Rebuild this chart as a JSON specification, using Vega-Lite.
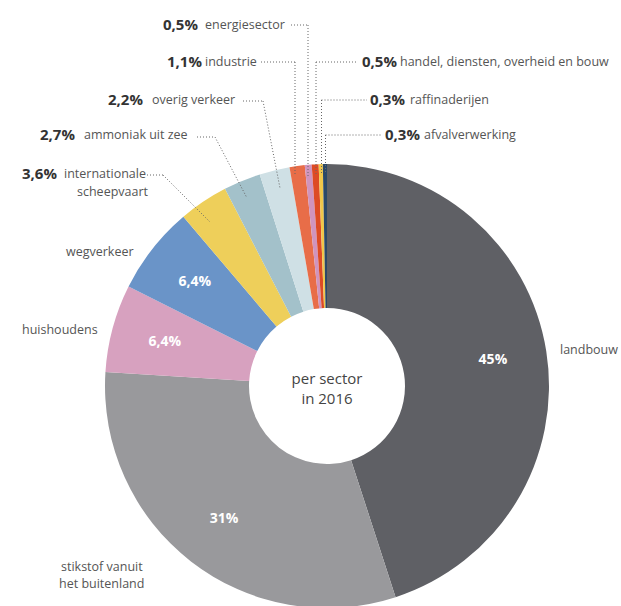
{
  "$schema": "https://vega.github.io/schema/vega-lite/v6.json",
  "autosize": {"type": "none"},
  "width": 444,
  "height": 444,
  "padding": {"left": 105, "top": 164, "right": 72, "bottom": 0},
  "background": "white",
  "config": {"view": {"stroke": null}},
  "datasets": {
    "slices": [
      {"name": "landbouw", "value": 45, "idx": 1, "inner": "45%"},
      {"name": "stikstof vanuit het buitenland", "value": 31, "idx": 2, "inner": "31%"},
      {"name": "huishoudens", "value": 6.4, "idx": 3, "inner": "6,4%"},
      {"name": "wegverkeer", "value": 6.4, "idx": 4, "inner": "6,4%"},
      {"name": "internationale scheepvaart", "value": 3.6, "idx": 5, "inner": ""},
      {"name": "ammoniak uit zee", "value": 2.7, "idx": 6, "inner": ""},
      {"name": "overig verkeer", "value": 2.2, "idx": 7, "inner": ""},
      {"name": "industrie", "value": 1.1, "idx": 8, "inner": ""},
      {"name": "energiesector", "value": 0.5, "idx": 9, "inner": ""},
      {"name": "handel, diensten, overheid en bouw", "value": 0.5, "idx": 10, "inner": ""},
      {"name": "raffinaderijen", "value": 0.3, "idx": 11, "inner": ""},
      {"name": "afvalverwerking", "value": 0.3, "idx": 12, "inner": ""}
    ],
    "labels": [
      {"t": "0,5%", "x": -164, "y": -361, "kind": "pct"},
      {"t": "1,1%", "x": -160, "y": -324, "kind": "pct"},
      {"t": "2,2%", "x": -219, "y": -286, "kind": "pct"},
      {"t": "2,7%", "x": -287, "y": -251, "kind": "pct"},
      {"t": "3,6%", "x": -305, "y": -212, "kind": "pct"},
      {"t": "0,5%", "x": 35, "y": -324, "kind": "pct"},
      {"t": "0,3%", "x": 43, "y": -286, "kind": "pct"},
      {"t": "0,3%", "x": 58, "y": -251, "kind": "pct"},
      {"t": "energiesector", "x": -122, "y": -361, "kind": "name"},
      {"t": "industrie", "x": -122, "y": -324, "kind": "name"},
      {"t": "overig verkeer", "x": -175, "y": -286, "kind": "name"},
      {"t": "ammoniak uit zee", "x": -243, "y": -251, "kind": "name"},
      {"t": "internationale", "x": -263, "y": -212, "kind": "name"},
      {"t": "scheepvaart", "x": -250, "y": -194, "kind": "name"},
      {"t": "handel, diensten, overheid en bouw", "x": 73, "y": -324, "kind": "name"},
      {"t": "raffinaderijen", "x": 83, "y": -286, "kind": "name"},
      {"t": "afvalverwerking", "x": 97, "y": -251, "kind": "name"},
      {"t": "wegverkeer", "x": -261, "y": -134, "kind": "name"},
      {"t": "huishoudens", "x": -305, "y": -56, "kind": "name"},
      {"t": "stikstof vanuit", "x": -266, "y": 181, "kind": "name"},
      {"t": "het buitenland", "x": -268, "y": 198, "kind": "name"},
      {"t": "landbouw", "x": 233, "y": -36, "kind": "name"}
    ],
    "center": [
      {"t": "per sector", "x": 0, "y": -7},
      {"t": "in 2016", "x": 0, "y": 13}
    ],
    "leaders": [
      {"x": -36, "y": -361, "x2": -19, "y2": -361},
      {"x": -19, "y": -361, "x2": -19, "y2": -210},
      {"x": -66, "y": -324, "x2": -32, "y2": -324},
      {"x": -32, "y": -324, "x2": -32, "y2": -212},
      {"x": -11, "y": -324, "x2": 31, "y2": -324},
      {"x": -11, "y": -324, "x2": -11, "y2": -212},
      {"x": -5.5, "y": -286, "x2": 40, "y2": -286},
      {"x": -5.5, "y": -286, "x2": -5.5, "y2": -212},
      {"x": -1.5, "y": -251, "x2": 54, "y2": -251},
      {"x": -1.5, "y": -251, "x2": -1.5, "y2": -212},
      {"x": -84, "y": -285, "x2": -64, "y2": -285},
      {"x": -64, "y": -285, "x2": -47, "y2": -198},
      {"x": -130, "y": -249, "x2": -112, "y2": -249},
      {"x": -112, "y": -249, "x2": -80, "y2": -188},
      {"x": -180, "y": -211, "x2": -164, "y2": -211},
      {"x": -164, "y": -211, "x2": -117, "y2": -164}
    ]
  },
  "layer": [
    {
      "data": {"name": "slices"},
      "mark": {"type": "arc", "innerRadius": 78, "outerRadius": 222},
      "encoding": {
        "theta": {"field": "value", "type": "quantitative", "stack": true},
        "order": {"field": "idx", "type": "quantitative"},
        "color": {
          "field": "name",
          "type": "nominal",
          "legend": null,
          "scale": {
            "domain": ["landbouw", "stikstof vanuit het buitenland", "huishoudens", "wegverkeer", "internationale scheepvaart", "ammoniak uit zee", "overig verkeer", "industrie", "energiesector", "handel, diensten, overheid en bouw", "raffinaderijen", "afvalverwerking"],
            "range": ["#5f6065", "#99999c", "#d7a1bf", "#6a94c8", "#eecf5a", "#a3c1ca", "#cfe0e5", "#e86d48", "#d094bd", "#dd4b25", "#f0c74a", "#2b4868"]
          }
        }
      }
    },
    {
      "data": {"name": "slices"},
      "mark": {"type": "text", "radius": 168, "fontWeight": "bold", "fontSize": 14, "fill": "white", "font": "Open Sans", "baseline": "middle", "align": "center"},
      "encoding": {
        "theta": {"field": "value", "type": "quantitative", "stack": true},
        "order": {"field": "idx", "type": "quantitative"},
        "text": {"field": "inner", "type": "nominal"}
      }
    },
    {
      "data": {"name": "leaders"},
      "mark": {"type": "rule", "stroke": "#666666", "strokeWidth": 1, "strokeDash": [1, 2]},
      "encoding": {
        "x": {"field": "x", "type": "quantitative", "axis": null, "scale": {"domain": [-222, 222], "nice": false, "zero": false}},
        "y": {"field": "y", "type": "quantitative", "axis": null, "scale": {"domain": [-222, 222], "nice": false, "zero": false, "reverse": true}},
        "x2": {"field": "x2"},
        "y2": {"field": "y2"}
      }
    },
    {
      "data": {"name": "labels"},
      "transform": [{"filter": "datum.kind == 'pct'"}],
      "mark": {"type": "text", "align": "left", "baseline": "middle", "font": "Open Sans", "fontWeight": "bold", "fontSize": 15, "fill": "#333333"},
      "encoding": {
        "x": {"field": "x", "type": "quantitative"},
        "y": {"field": "y", "type": "quantitative"},
        "text": {"field": "t", "type": "nominal"}
      }
    },
    {
      "data": {"name": "labels"},
      "transform": [{"filter": "datum.kind == 'name'"}],
      "mark": {"type": "text", "align": "left", "baseline": "middle", "font": "Open Sans", "fontSize": 12.5, "fill": "#555555"},
      "encoding": {
        "x": {"field": "x", "type": "quantitative"},
        "y": {"field": "y", "type": "quantitative"},
        "text": {"field": "t", "type": "nominal"}
      }
    },
    {
      "data": {"name": "center"},
      "mark": {"type": "text", "align": "center", "baseline": "middle", "font": "Open Sans", "fontSize": 15, "fill": "#444444"},
      "encoding": {
        "x": {"field": "x", "type": "quantitative"},
        "y": {"field": "y", "type": "quantitative"},
        "text": {"field": "t", "type": "nominal"}
      }
    }
  ]
}
